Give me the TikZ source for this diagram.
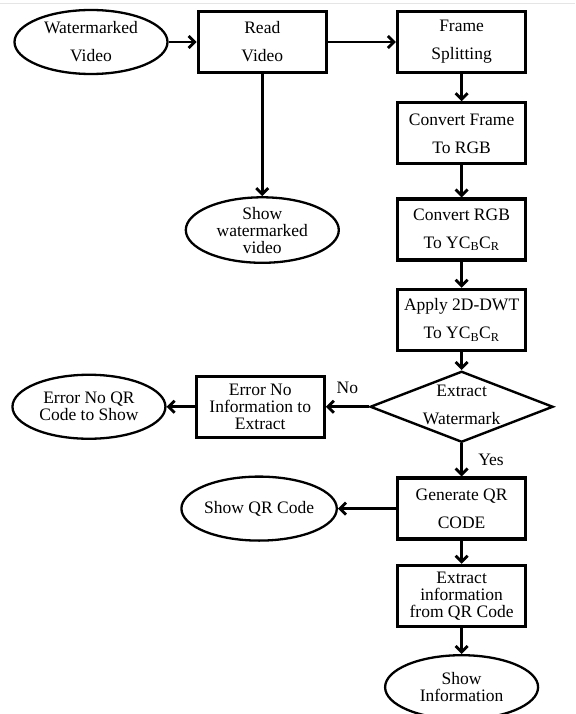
\documentclass[tikz,border=0pt]{standalone}
\usepackage{fontspec}
\setmainfont{Liberation Serif}
\usetikzlibrary{arrows.meta, positioning, shapes.geometric}

\begin{document}
\begin{tikzpicture}[
    wide/.style={font=\fontsize{17.5}{28}\selectfont, align=center},
    tight/.style={font=\fontsize{17.5}{17}\selectfont, align=center},
    process/.style={draw, line width=3.3pt, minimum width=128pt, minimum height=61pt, inner sep=0pt},
    terminal/.style={draw, ellipse, line width=2.3pt, minimum width=153pt, minimum height=64pt, inner sep=0pt},
    decision/.style={draw, diamond, line width=2.4pt, minimum width=183pt, minimum height=71pt, inner sep=0pt},
    flow/.style={line width=2.8pt, -{Straight Barb[length=6pt,width=12pt]}}
]
    \useasboundingbox (0,0) rectangle (575pt,-714pt);
    \draw[black!10, line width=1pt] (0,-4pt) -- (575pt,-4pt);

    \node[terminal, wide]                      (Watermarked)  at (91pt,-42pt) {Watermarked\\Video};
    \node[process, wide, right=28pt of Watermarked] (Read)      {Read\\Video};
    \node[process, wide, right=68pt of Read]   (Splitting)    {Frame\\Splitting};
    \node[terminal, tight, below=122pt of Read] (Show WM)     {Show\\watermarked\\video};

    \node[process, wide, below=27pt of Splitting]  (To RGB)   {Convert Frame\\To RGB};
    \node[process, wide, below=32pt of To RGB]     (To YCC)   {Convert RGB\\To YC\textsubscript{B}C\textsubscript{R}};
    \node[process, wide, below=26pt of To YCC]     (DWT)      {Apply 2D-DWT\\To YC\textsubscript{B}C\textsubscript{R}};
    \node[decision, below=18pt of DWT,
          label={[wide, yshift=2pt]center:Extract\\Watermark}] (Extract WM) {};

    \node[process, tight, left=43pt of Extract WM] (No Info)  {Error No\\Information to\\Extract};
    \node[terminal, tight, left=28pt of No Info]   (No QR)    {Error No QR\\Code to Show};

    \node[process, wide, below=33pt of Extract WM] (Generate) {Generate QR\\CODE};
    \node[terminal, tight, left=58pt of Generate]  (Show QR)  {Show QR Code};
    \node[process, tight, below=23pt of Generate]  (Extract Info) {Extract\\information\\from QR Code};
    \node[terminal, tight, below=26pt of Extract Info] (Show Info) {Show\\Information};

    \draw[flow] (Watermarked) -- (Read);
    \draw[flow] (Read) -- (Splitting);
    \draw[flow] (Read) -- (Show WM);
    \draw[flow] (Splitting) -- (To RGB);
    \draw[flow] (To RGB) -- (To YCC);
    \draw[flow] (To YCC) -- (DWT);
    \draw[flow] (DWT) -- (Extract WM);
    \draw[flow] (Extract WM) -- node[midway, above=8pt, font=\fontsize{17.5}{17}\selectfont] (No) {No} (No Info);
    \draw[flow] (No Info) -- (No QR);
    \draw[flow] (Extract WM) -- node[midway, right=12pt, font=\fontsize{17.5}{17}\selectfont] (Yes) {Yes} (Generate);
    \draw[flow] (Generate) -- (Show QR);
    \draw[flow] (Generate) -- (Extract Info);
    \draw[flow] (Extract Info) -- (Show Info);
\end{tikzpicture}
\end{document}
